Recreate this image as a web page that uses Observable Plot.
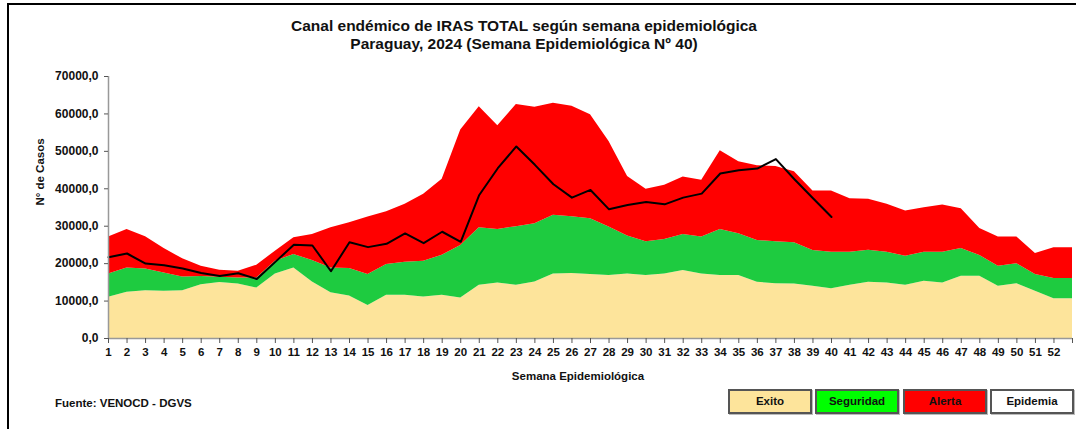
<!DOCTYPE html>
<html>
<head>
<meta charset="utf-8">
<script src="https://cdn.jsdelivr.net/npm/d3@7"></script>
<script src="https://cdn.jsdelivr.net/npm/@observablehq/plot@0.6"></script>
<style>
  html, body { margin: 0; padding: 0; background: #fff; }
  #wrap { position: relative; width: 1076px; height: 429px; overflow: hidden; font-family: "Liberation Sans", Arial, sans-serif; color: #111; }
  #frame { position: absolute; left: 7px; top: 3px; width: 1080px; height: 440px; border-top: 2px solid #000; border-left: 2px solid #000; }
  .title { position: absolute; left: 0; width: 1048px; text-align: center; font-weight: bold; font-size: 15.5px; }
  .txt { position: absolute; font-weight: bold; font-size: 11.5px; color: #111; }
  .leg { position: absolute; top: 389px; width: 80px; height: 21px; border: 2px solid #555; box-shadow: 1px 1px 0 #bbb; text-align: center; line-height: 21px; font-weight: bold; font-size: 11.5px; color: #111; }
  #plot { position: absolute; left: 0; top: 0; }
</style>
</head>
<body>
<div id="wrap">
  <div id="plot"></div>
  <div id="frame"></div>
  <div class="title" style="top:17px">Canal endémico de IRAS TOTAL según semana epidemiológica</div>
  <div class="title" style="top:35px">Paraguay, 2024 (Semana Epidemiológica Nº 40)</div>
  <div class="txt" style="left:40px; top:172px; transform: translate(-50%,-50%) rotate(-90deg); white-space:nowrap;">N° de Casos</div>
  <div class="txt" style="left:498px; top:370px; width:160px; text-align:center;">Semana Epidemiológica</div>
  <div class="txt" style="left:55px; top:397px;">Fuente: VENOCD - DGVS</div>
  <div id="legend"></div>
</div>
<script>
// Weeks (53 = right edge of the category axis, repeats week 52)
const weeks = [1,2,3,4,5,6,7,8,9,10,11,12,13,14,15,16,17,18,19,20,21,22,23,24,25,26,27,28,29,30,31,32,33,34,35,36,37,38,39,40,41,42,43,44,45,46,47,48,49,50,51,52,53];
const exito = [11000,12340,12780,12600,12780,14390,14930,14570,13500,17250,18860,15110,12250,11350,8850,11530,11530,11090,11530,10820,14210,14840,14210,15110,17250,17340,17070,16800,17250,16800,17250,18150,17250,16800,16800,15020,14660,14570,13950,13320,14210,15020,14840,14210,15290,14840,16630,16630,13950,14660,12610,10640,10640];
const seguridad = [17240,18860,18600,17520,16450,16540,16360,16180,16180,20650,22440,20830,18860,18680,17070,19760,20380,20650,22260,24850,29590,29150,29860,30660,32900,32540,32000,29770,27360,25840,26460,27800,27090,29150,27980,26190,25840,25570,23510,23070,23070,23600,23070,21990,23070,23070,24050,22170,19310,19940,17070,16000,16000];
const alerta = [27090,29150,27180,24050,21280,19310,18240,17970,19580,23330,26910,27800,29590,30900,32450,33880,35850,38530,42550,55690,61950,56860,62490,61770,62850,62040,59810,52660,43270,39870,40940,43180,42280,50150,47200,46130,45950,44520,39430,39430,37370,37190,35850,34060,34960,35670,34690,29410,27090,27090,22710,24230,24230];
const casos2024 = [21720,22710,20030,19580,18680,17520,16720,17430,15910,20470,25030,24850,17970,25700,24410,25300,28070,25480,28520,25840,38350,45500,51310,46400,41210,37640,39690,34510,35670,36480,35850,37640,38710,44070,44970,45410,47920,42550,37460,32450];
const yTicks = [0,10000,20000,30000,40000,50000,60000,70000];
const legendLabels = ["Exito","Seguridad","Alerta","Epidemia"];
const legendColors = ["#fde49b","#00ff00","#ff0000","#ffffff"];

const colExito = "#fde49b", colSeg = "#1ecb40", colAlerta = "#ff0000";

const table = weeks.map((w, i) => ({week: w, exito: exito[i], seguridad: seguridad[i], alerta: alerta[i]}));
const line = casos2024.map((v, i) => ({week: weeks[i], casos: v}));

const chart = Plot.plot({
  width: 1076,
  height: 429,
  marginLeft: 108,
  marginRight: 4,
  marginTop: 76,
  marginBottom: 91,
  style: {fontFamily: "'Liberation Sans', Arial, sans-serif", fontSize: "11.5px", fontWeight: "bold", color: "#111", background: "transparent"},
  x: {domain: [1, 53]},
  y: {domain: [0, 70000]},
  marks: [
    Plot.areaY(table, {x: "week", y1: 0, y2: "exito", fill: colExito}),
    Plot.areaY(table, {x: "week", y1: "exito", y2: "seguridad", fill: colSeg}),
    Plot.areaY(table, {x: "week", y1: "seguridad", y2: "alerta", fill: colAlerta}),
    Plot.line(line, {x: "week", y: "casos", stroke: "#000", strokeWidth: 2}),
    Plot.ruleX([1], {stroke: "#999", strokeWidth: 1.5}),
    Plot.ruleY([0], {stroke: "#999", strokeWidth: 1.5}),
    Plot.axisX({ticks: weeks, tickSize: 5, tickPadding: 4, stroke: "#555", fontSize: 11.5, tickFormat: d => d <= 52 ? String(d) : "", label: null}),
    Plot.axisY({ticks: yTicks, tickSize: 4, tickPadding: 6, stroke: "#555", fontSize: 12, tickFormat: d => d + ",0", label: null})
  ]
});
document.getElementById("plot").appendChild(chart);

const leg = document.getElementById("legend");
const legLefts = [728, 815, 903, 990];
legendLabels.forEach((t, i) => {
  const d = document.createElement("div");
  d.className = "leg";
  d.style.left = legLefts[i] + "px";
  d.style.background = legendColors[i];
  d.textContent = t;
  leg.appendChild(d);
});
</script>
</body>
</html>
